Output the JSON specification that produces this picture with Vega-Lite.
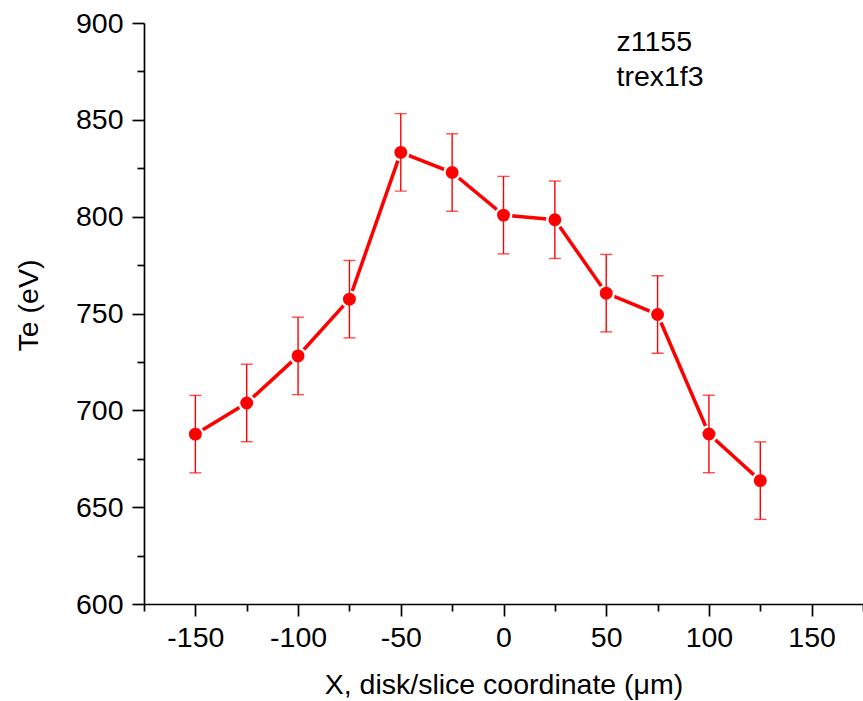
{
  "$schema": "https://vega.github.io/schema/vega-lite/v6.json",
  "width": 719,
  "height": 581,
  "autosize": "none",
  "padding": {"left": 144, "top": 23, "right": 0, "bottom": 97},
  "background": "white",
  "config": {
    "view": {"stroke": null},
    "font": "Liberation Sans",
    "axis": {
      "grid": false,
      "domainColor": "black",
      "domainWidth": 1.7,
      "tickColor": "black",
      "tickWidth": 1.7,
      "labelColor": "black",
      "labelFont": "Liberation Sans",
      "labelFontSize": 28.5,
      "titleFont": "Liberation Sans",
      "titleFontSize": 28.5,
      "titleFontWeight": "normal",
      "titleColor": "black",
      "labelFlush": false,
      "labelOverlap": false,
      "labelBound": false
    }
  },
  "datasets": {
    "pts": [
      {"x": -150, "te": 687.7, "lo": 667.7, "hi": 707.7},
      {"x": -125, "te": 703.8, "lo": 683.8, "hi": 723.8},
      {"x": -100, "te": 728.1, "lo": 708.1, "hi": 748.1},
      {"x": -75, "te": 757.4, "lo": 737.4, "hi": 777.4},
      {"x": -50, "te": 833.2, "lo": 813.2, "hi": 853.2},
      {"x": -25, "te": 822.8, "lo": 802.8, "hi": 842.8},
      {"x": 0, "te": 800.8, "lo": 780.8, "hi": 820.8},
      {"x": 25, "te": 798.4, "lo": 778.4, "hi": 818.4},
      {"x": 50, "te": 760.5, "lo": 740.5, "hi": 780.5},
      {"x": 75, "te": 749.5, "lo": 729.5, "hi": 769.5},
      {"x": 100, "te": 687.8, "lo": 667.8, "hi": 707.8},
      {"x": 125, "te": 663.7, "lo": 643.7, "hi": 683.7}
    ],
    "notes": [
      {"x": 55, "te": 885.5, "label": "z1155"},
      {"x": 55, "te": 867.4, "label": "trex1f3"}
    ]
  },
  "layer": [
    {
      "data": {"name": "pts"},
      "mark": {"type": "line", "color": "#ff0000", "strokeWidth": 3.5},
      "encoding": {
        "x": {
          "field": "x", "type": "quantitative",
          "title": "X, disk/slice coordinate (\u03bcm)",
          "scale": {"domain": [-175, 175], "nice": false, "zero": false},
          "axis": {
            "values": [-175, -150, -125, -100, -75, -50, -25, 0, 25, 50, 75, 100, 125, 150, 175],
            "labelExpr": "datum.value % 50 === 0 ? '' + datum.value : ''",
            "tickSize": {"condition": {"test": "datum.value % 50 === 0", "value": 12}, "value": 7},
            "labelPadding": 7,
            "titlePadding": 19
          }
        },
        "y": {
          "field": "te", "type": "quantitative",
          "title": "Te (eV)",
          "scale": {"domain": [600, 900], "nice": false, "zero": false},
          "axis": {
            "values": [600, 625, 650, 675, 700, 725, 750, 775, 800, 825, 850, 875, 900],
            "labelExpr": "datum.value % 50 === 0 ? '' + datum.value : ''",
            "tickSize": {"condition": {"test": "datum.value % 50 === 0", "value": 12}, "value": 7},
            "labelPadding": 9,
            "titlePadding": 32,
            "titleY": 282
          }
        }
      }
    },
    {
      "data": {"name": "pts"},
      "mark": {"type": "point", "shape": "circle", "filled": true, "size": 235, "fill": "#ff0000", "stroke": "white", "strokeWidth": 2.4, "opacity": 1},
      "encoding": {
        "x": {"field": "x", "type": "quantitative", "title": "X, disk/slice coordinate (\u03bcm)"},
        "y": {"field": "te", "type": "quantitative", "title": "Te (eV)"}
      }
    },
    {
      "data": {"name": "pts"},
      "mark": {"type": "errorbar", "color": "#ff0000", "thickness": 1.4, "ticks": {"size": 12, "thickness": 1.4, "color": "#ff0000"}},
      "encoding": {
        "x": {"field": "x", "type": "quantitative", "title": "X, disk/slice coordinate (\u03bcm)"},
        "y": {"field": "lo", "type": "quantitative", "title": "Te (eV)"},
        "y2": {"field": "hi"}
      }
    },
    {
      "data": {"name": "notes"},
      "mark": {"type": "text", "align": "left", "baseline": "alphabetic", "font": "Liberation Sans", "fontSize": 28.5, "color": "black"},
      "encoding": {
        "x": {"field": "x", "type": "quantitative", "title": "X, disk/slice coordinate (\u03bcm)"},
        "y": {"field": "te", "type": "quantitative", "title": "Te (eV)"},
        "text": {"field": "label"}
      }
    }
  ]
}
